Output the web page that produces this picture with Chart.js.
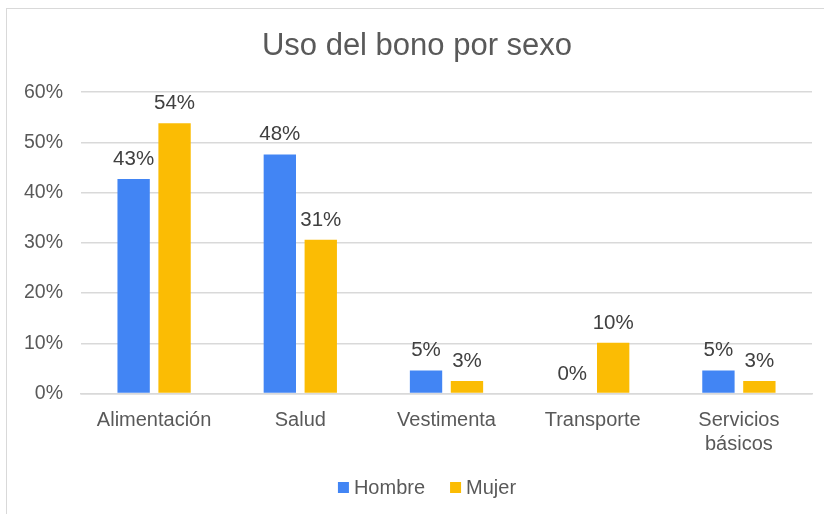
<!DOCTYPE html>
<html>
<head>
<meta charset="utf-8">
<script src="https://cdn.jsdelivr.net/npm/chart.js@4"></script>
<style>
  html, body { margin:0; padding:0; background:#fff; overflow:hidden; }
  #frame { position:absolute; left:6px; top:8px; width:900px; height:600px; border:1.5px solid #d9d9d9; box-sizing:border-box; }
  #wrap { position:absolute; left:0; top:0; width:824px; height:514px; }
</style>
</head>
<body>
<div id="frame"></div>
<div id="wrap"><canvas id="c" width="824" height="514"></canvas></div>
<script>
const categories = ['Alimentación', 'Salud', 'Vestimenta', 'Transporte', ['Servicios', 'básicos']];
const hombre = [42.7, 47.6, 4.6, 0, 4.6];
const mujer = [53.8, 30.6, 2.5, 10.1, 2.5];
const yTicks = [0, 10, 20, 30, 40, 50, 60];

const FONT = '"Liberation Sans", Arial, sans-serif';

const valueLabels = {
  id: 'valueLabels',
  afterDatasetsDraw(chart) {
    const ctx = chart.ctx;
    ctx.save();
    ctx.font = '20.5px ' + FONT;
    ctx.fillStyle = '#404040';
    ctx.textAlign = 'center';
    ctx.textBaseline = 'alphabetic';
    chart.data.datasets.forEach((ds, i) => {
      const meta = chart.getDatasetMeta(i);
      meta.data.forEach((bar, j) => {
        ctx.fillText(Math.round(ds.data[j]) + '%', bar.x, bar.y - 14);
      });
    });
    ctx.restore();
  }
};

const bottomLegend = {
  id: 'bottomLegend',
  afterDraw(chart) {
    const ctx = chart.ctx;
    const box = 11, textGap = 5, itemGap = 25, cx = 427, cy = 487.5;
    ctx.save();
    ctx.font = '20px ' + FONT;
    ctx.textBaseline = 'middle';
    ctx.textAlign = 'left';
    const items = chart.data.datasets.map(ds => ({ text: ds.label, color: ds.backgroundColor, w: ctx.measureText(ds.label).width }));
    let total = 0;
    items.forEach((it, i) => { total += box + textGap + it.w + (i ? itemGap : 0); });
    let x = cx - total / 2;
    items.forEach(it => {
      ctx.fillStyle = it.color;
      ctx.fillRect(x, cy - box / 2, box, box);
      ctx.fillStyle = '#595959';
      ctx.fillText(it.text, x + box + textGap, cy + 1);
      x += box + textGap + it.w + itemGap;
    });
    ctx.restore();
  }
};

new Chart(document.getElementById('c'), {
  type: 'bar',
  data: {
    labels: categories,
    datasets: [
      { label: 'Hombre', data: hombre, backgroundColor: '#4285F4', categoryPercentage: 0.56, barPercentage: 0.79 },
      { label: 'Mujer', data: mujer, backgroundColor: '#FBBC04', categoryPercentage: 0.56, barPercentage: 0.79 }
    ]
  },
  options: {
    responsive: false,
    animation: false,
    layout: { padding: { left: 22, right: 12, top: 0, bottom: 51.5 } },
    plugins: {
      title: {
        display: true,
        text: 'Uso del bono por sexo',
        color: '#595959',
        font: { family: FONT, size: 31, weight: 'normal' },
        padding: { top: 28, bottom: 27 }
      },
      legend: { display: false },
      tooltip: { enabled: false }
    },
    scales: {
      x: {
        grid: { display: false },
        border: { display: true, color: '#d9d9d9', width: 1.5 },
        ticks: { color: '#595959', font: { family: FONT, size: 20 }, padding: 6.5, maxRotation: 0 }
      },
      y: {
        min: 0, max: 60,
        afterFit(scale) { scale.width = 59; },
        afterBuildTicks(scale) { scale.ticks = yTicks.map(v => ({ value: v })); },
        grid: { color: '#d9d9d9', lineWidth: 1.5, drawTicks: false },
        border: { display: false },
        ticks: { color: '#595959', font: { family: FONT, size: 19.5 }, padding: 18, callback: v => v + '%' }
      }
    }
  },
  plugins: [valueLabels, bottomLegend]
});
</script>
</body>
</html>
